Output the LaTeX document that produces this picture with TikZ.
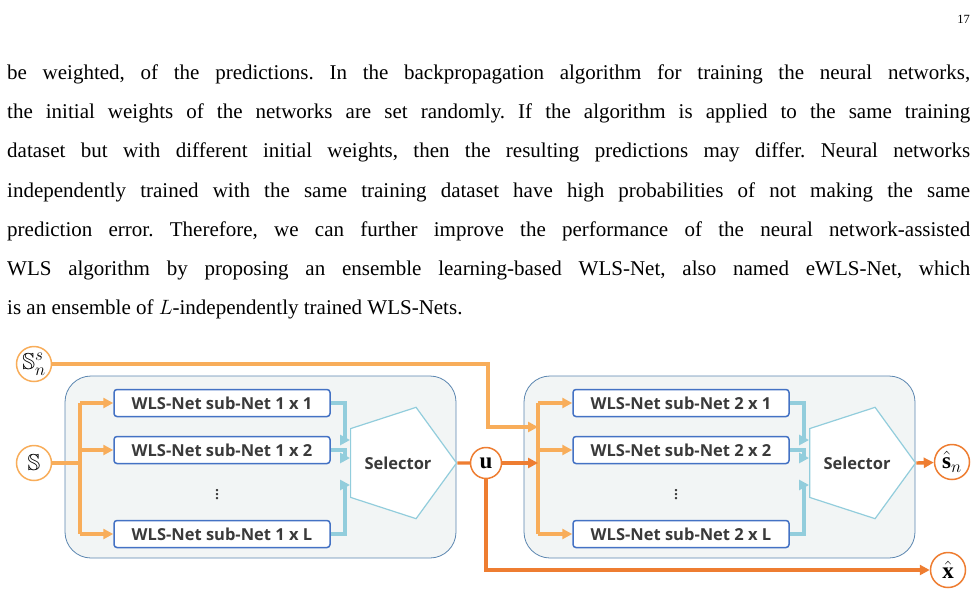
\documentclass[tikz,border=0pt]{standalone}
\usepackage{amssymb}
\usepackage{fontspec}
\setmainfont{Liberation Serif}
\newfontfamily\boxfont{Open Sans}
\usetikzlibrary{arrows.meta,shapes.geometric,positioning}
\definecolor{lorange}{HTML}{F8AD5A}
\definecolor{dorange}{HTML}{EE7D31}
\definecolor{lblue}{HTML}{92CDDC}
\definecolor{bblue}{HTML}{4472C4}
\definecolor{gblue}{HTML}{5B86B0}
\definecolor{gfill}{HTML}{F2F5F5}
\definecolor{tgray}{HTML}{3A3A3A}
\newcommand{\bb}{\mathbb{S}}
\newcommand{\txtline}[1]{\makebox[963pt][s]{\frenchspacing #1}}

\begin{document}
\begin{tikzpicture}[x=1pt,y=-1pt,
    txt/.style={anchor=base west, inner sep=0pt, font=\fontsize{21}{24}\selectfont},
    block/.style={draw=gblue, fill=gfill, rounded corners=26pt, line width=0.8pt},
    net/.style={draw=bblue, fill=white, rounded corners=3pt, line width=1.5pt, minimum width=216pt, minimum height=27pt, inner sep=0pt, font=\boxfont\bfseries\fontsize{16.5}{18}\selectfont, text=tgray},
    sel/.style={draw=lblue, fill=white, regular polygon, regular polygon sides=5, shape border rotate=-90, minimum size=80pt, inner sep=0pt, line width=1.2pt, font=\boxfont\bfseries\fontsize{16.5}{18}\selectfont, text=tgray},
    io/.style={circle, draw, fill=white, line width=1.5pt, minimum size=35pt, inner sep=0pt, font=\fontsize{23}{26}\selectfont},
    fin/.style={lorange, line width=3.4pt, -{Triangle[length=10pt,width=10pt]}},
    fout/.style={dorange, line width=3.4pt, -{Triangle[length=10pt,width=10pt]}},
    sig/.style={lblue, line width=3.4pt, -{Triangle[length=10pt,width=10pt]}}]
  \useasboundingbox (0,0) rectangle (977,595);
  % page text
  \node[anchor=base east, inner sep=0pt, font=\fontsize{12.5}{14}\selectfont] (page) at (970,23) {17};
  \node[txt] (l1) at (7,79) {\txtline{be weighted, of the predictions. In the backpropagation algorithm for training the neural networks,}};
  \node[txt] (l2) at (7,118) {\txtline{the initial weights of the networks are set randomly. If the algorithm is applied to the same training}};
  \node[txt] (l3) at (7,157) {\txtline{dataset but with different initial weights, then the resulting predictions may differ. Neural networks}};
  \node[txt] (l4) at (7,197) {\txtline{independently trained with the same training dataset have high probabilities of not making the same}};
  \node[txt] (l5) at (7,236) {\txtline{prediction error. Therefore, we can further improve the performance of the neural network-assisted}};
  \node[txt] (l6) at (7,275) {\txtline{WLS algorithm by proposing an ensemble learning-based WLS-Net, also named eWLS-Net, which}};
  \node[txt] (l7) at (7,314) {\frenchspacing is an ensemble of $L$-independently trained WLS-Nets.};

  % blocks
  \draw[block] (65,376) rectangle (456,558);
  \draw[block] (524,376) rectangle (915,558);

  % inputs and outputs
  \node[io, draw=lorange] (sns) at (34,364) {$\bb_n^s$};
  \node[io, draw=lorange] (s) at (34,463) {$\bb$};
  \node[io, draw=dorange, minimum size=31pt] (u) at (486,463) {$\mathbf{u}$};
  \node[io, draw=dorange] (shat) at (952,462) {$\hat{\mathbf{s}}_n$};
  \node[io, draw=dorange] (xhat) at (948,570) {$\hat{\mathbf{x}}$};

  % sub-nets, first stage
  \node[net] (n11) at (222,403) {WLS-Net sub-Net 1 x 1};
  \node[net] (n12) at (222,450) {WLS-Net sub-Net 1 x 2};
  \node[net] (n1L) at (222,534) {WLS-Net sub-Net 1 x L};
  \node[font=\fontsize{20}{22}\selectfont, text=tgray, inner sep=0pt] (d1) at (217,492) {$\vdots$};
  \node[sel] (sel1) at (398,463) {Selector};

  % sub-nets, second stage
  \node[net] (n21) at (681,403) {WLS-Net sub-Net 2 x 1};
  \node[net] (n22) at (681,450) {WLS-Net sub-Net 2 x 2};
  \node[net] (n2L) at (681,534) {WLS-Net sub-Net 2 x L};
  \node[font=\fontsize{20}{22}\selectfont, text=tgray, inner sep=0pt] (d2) at (676,492) {$\vdots$};
  \node[sel] (sel2) at (857,463) {Selector};

  \coordinate (bus1) at (80,463);
  \coordinate (bus2) at (538,463);

  % first stage wiring
  \draw[lorange, line width=3.4pt] (s) -- (bus1);
  \draw[lorange, line width=3.4pt] (80,403) -- (80,534);
  \foreach \n in {n11,n12,n1L}
    \draw[fin] (bus1 |- \n.west) -- (\n.west);
  \draw[sig] (n11.east) -| (345,440) -- (sel1.west |- 0,440);
  \draw[sig] (n12.east) -| (345,458) -- (sel1.west |- 0,458);
  \draw[sig] (n1L.east) -| (345,485) -- (sel1.west |- 0,485);
  \draw[dorange, line width=3.4pt] (sel1.east) -- (u);

  % second stage wiring
  \draw[lorange, line width=3.4pt] (538,403) -- (538,534);
  \draw[fin] (sns) -- (488,364) |- (bus2 |- 0,427);
  \draw[fout] (u) -- (bus2);
  \foreach \n in {n21,n22,n2L}
    \draw[fin] (bus2 |- \n.west) -- (\n.west);
  \draw[sig] (n21.east) -| (804,440) -- (sel2.west |- 0,440);
  \draw[sig] (n22.east) -| (804,458) -- (sel2.west |- 0,458);
  \draw[sig] (n2L.east) -| (804,485) -- (sel2.west |- 0,485);
  \draw[fout] (sel2.east) -- (shat);
  \draw[fout] (u.south) |- (xhat);
\end{tikzpicture}
\end{document}
